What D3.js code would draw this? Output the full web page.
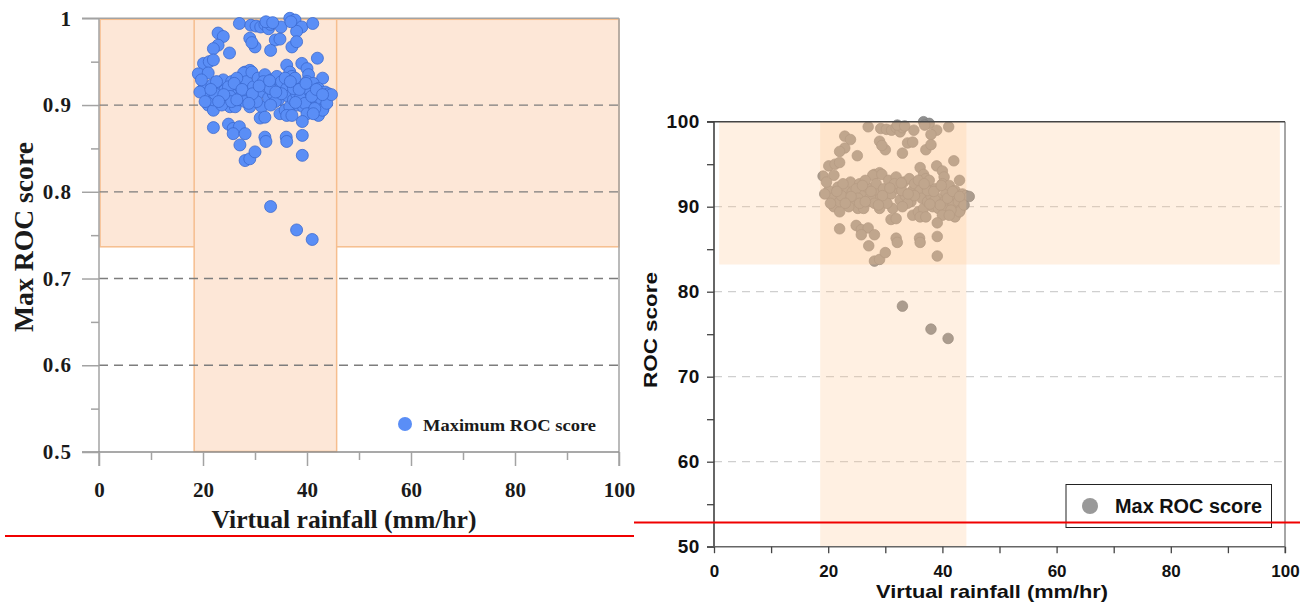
<!DOCTYPE html>
<html>
<head>
<meta charset="utf-8">
<script src="https://cdnjs.cloudflare.com/ajax/libs/d3/7.8.5/d3.min.js"></script>
<style>
  body { margin: 0; background: #fff; }
  svg { display: block; }
  .serif text { font-family: "Liberation Serif", "Times New Roman", serif; font-weight: bold; fill: #1a1a1a; }
  .sans text { font-family: "Liberation Sans", Arial, sans-serif; font-weight: bold; fill: #111; }
</style>
</head>
<body>
<svg width="1315" height="612"></svg>
<script>
// virtual rainfall (mm/hr) and max ROC score
var rainfall = [
  27.0, 29.2, 30.2, 31.1, 31.9, 32.6, 33.0, 35.0, 36.7, 37.7, 39.0, 38.0, 41.1, 32.1, 33.4, 36.9,
  22.9, 23.9, 22.9, 22.0, 25.1, 29.0, 30.0, 33.9, 34.8, 33.0, 37.1, 38.0, 42.0, 29.4,
  20.1, 21.2, 22.0, 19.1, 21.0, 36.1, 39.0, 40.0, 40.3, 43.0, 28.1, 29.0, 36.7, 37.1,
  20.1, 20.7, 21.0, 22.0, 21.7, 22.0, 23.0, 23.3, 23.9, 24.2,
  24.6, 25.2, 25.5, 25.8, 26.2, 26.8, 27.1, 27.8, 28.1, 28.4,
  28.7, 29.0, 29.4, 29.7, 30.0, 30.6, 31.0, 31.3, 31.9, 32.3,
  32.6, 33.2, 33.5, 34.2, 34.5, 34.8, 35.1, 34.8, 35.8, 36.1,
  36.4, 36.7, 37.1, 37.4, 38.0, 38.3, 38.7, 39.2, 39.3, 40.0,
  40.3, 40.6, 40.9, 41.2, 41.5, 41.9, 42.2, 42.5, 42.8, 43.1,
  43.5, 44.1, 42.2, 43.0,
  19.7, 19.4, 20.4, 22.6, 22.3, 23.6, 24.9, 25.2, 26.5, 27.4, 28.1, 25.5,
  30.3, 31.6, 32.9, 33.9, 35.1, 35.8, 37.4, 37.7, 38.7, 39.6, 40.0, 40.9, 41.5, 41.2, 43.8, 44.7,
  26.0, 27.5, 29.5, 30.8, 32.8, 34.0, 24.0, 21.5, 36.8, 38.5, 39.8, 41.8, 43.0, 37.8, 33.0, 28.8, 26.5, 23.0,
  22.0, 24.9, 25.8, 27.0, 25.8, 28.1, 27.1, 31.9, 32.1, 36.0, 36.1, 39.1, 31.0, 31.9, 39.1, 28.1, 29.0, 30.0, 39.1, 36.1, 37.1,
  33.0, 38.0, 41.0
];
var maxRoc = [
  0.994, 0.992, 0.991, 0.990, 0.993, 0.988, 0.993, 0.990, 1.000, 0.998, 0.990, 0.985, 0.994, 0.996, 0.995, 0.996,
  0.983, 0.979, 0.969, 0.965, 0.960, 0.977, 0.967, 0.975, 0.976, 0.963, 0.967, 0.973, 0.954, 0.972,
  0.948, 0.950, 0.952, 0.936, 0.937, 0.946, 0.948, 0.942, 0.935, 0.931, 0.938, 0.940, 0.938, 0.933,
  0.919, 0.910, 0.900, 0.894, 0.923, 0.906, 0.919, 0.910, 0.929, 0.917,
  0.904, 0.898, 0.927, 0.913, 0.898, 0.923, 0.906, 0.937, 0.917, 0.927,
  0.908, 0.898, 0.938, 0.921, 0.910, 0.931, 0.915, 0.898, 0.935, 0.921,
  0.908, 0.929, 0.913, 0.933, 0.906, 0.919, 0.927, 0.890, 0.894, 0.919,
  0.910, 0.898, 0.925, 0.906, 0.913, 0.900, 0.921, 0.910, 0.898, 0.927,
  0.906, 0.917, 0.896, 0.925, 0.910, 0.902, 0.919, 0.892, 0.906, 0.896,
  0.915, 0.913, 0.888, 0.894,
  0.929, 0.915, 0.904, 0.927, 0.913, 0.900, 0.921, 0.910, 0.931, 0.911, 0.904, 0.904,
  0.904, 0.927, 0.919, 0.904, 0.913, 0.931, 0.919, 0.931, 0.908, 0.902, 0.890, 0.910, 0.896, 0.890, 0.902, 0.912,
  0.925, 0.918, 0.913, 0.922, 0.928, 0.915, 0.912, 0.918, 0.927, 0.918, 0.925, 0.918, 0.912, 0.903, 0.900, 0.902, 0.906, 0.904,
  0.874, 0.878, 0.873, 0.875, 0.867, 0.867, 0.854, 0.863, 0.858, 0.863, 0.858, 0.865, 0.885, 0.886, 0.881, 0.836, 0.838, 0.846, 0.842, 0.888, 0.888,
  0.783, 0.756, 0.745
];

var xTicks = [0, 20, 40, 60, 80, 100];
var xMinorTicks = [10, 30, 50, 70, 90];
var leftYTicks = [0.5, 0.6, 0.7, 0.8, 0.9, 1];
var leftYMinor = [0.55, 0.65, 0.75, 0.85, 0.95];
var leftGrid = [0.6, 0.7, 0.8, 0.9];
var rightYTicks = [50, 60, 70, 80, 90, 100];
var rightYMinor = [55, 65, 75, 85, 95];
var rightGrid = [60, 70, 80, 90];
// shaded regions: [x0, x1, y0, y1]
var leftRegions = [[0.2, 100, 0.736, 1], [18.3, 45.7, 0.5, 1]];
var rightRegions = [[0.9, 99.1, 83.2, 100], [18.6, 44.2, 50, 100]];

var points = rainfall.map(function(r, i) { return {x: r, y: maxRoc[i]}; });

var svg = d3.select("svg");

// ---------- left panel ----------
var xL = d3.scaleLinear().domain([0, 100]).range([99, 619]);
var yL = d3.scaleLinear().domain([0.5, 1]).range([452, 18.3]);
var left = svg.append("g").attr("class", "serif");

left.selectAll("rect.region")
    .data(leftRegions)
    .enter().append("rect")
      .attr("x", function(d) { return xL(d[0]); })
      .attr("y", function(d) { return yL(d[3]) + 1; })
      .attr("width", function(d) { return xL(d[1]) - xL(d[0]); })
      .attr("height", function(d) { return yL(d[2]) - yL(d[3]) - 1.5; })
      .attr("fill", "#fde7d7")
      .attr("stroke", "#f6be8e")
      .attr("stroke-width", 1.5);

left.selectAll("line.grid")
    .data(leftGrid)
    .enter().append("line")
      .attr("x1", xL(0)).attr("x2", xL(100))
      .attr("y1", function(d) { return yL(d); })
      .attr("y2", function(d) { return yL(d); })
      .attr("stroke", "#7d7d7d")
      .attr("stroke-width", 1.3)
      .attr("stroke-dasharray", "9,6");

// frame
var grey = "#a3a3a3";
left.append("line").attr("x1", xL(0)).attr("x2", xL(0)).attr("y1", yL(1)).attr("y2", yL(0.5) + 14).attr("stroke", grey).attr("stroke-width", 1.5);
left.append("line").attr("x1", xL(100)).attr("x2", xL(100)).attr("y1", yL(1)).attr("y2", yL(0.5) + 14).attr("stroke", grey).attr("stroke-width", 1.5);
left.append("line").attr("x1", xL(0) - 17).attr("x2", xL(100)).attr("y1", yL(1)).attr("y2", yL(1)).attr("stroke", grey).attr("stroke-width", 1.5);
left.append("line").attr("x1", xL(0) - 17).attr("x2", xL(100)).attr("y1", yL(0.5)).attr("y2", yL(0.5)).attr("stroke", "#8c8c8c").attr("stroke-width", 1.5);

var lyAxis = left.append("g")
    .attr("transform", "translate(" + xL(0) + ",0)")
    .call(d3.axisLeft(yL).tickValues(leftYTicks).tickSize(17).tickPadding(10).tickFormat(d3.format("")));
var lyMinor = left.append("g")
    .attr("transform", "translate(" + xL(0) + ",0)")
    .call(d3.axisLeft(yL).tickValues(leftYMinor).tickSize(8).tickFormat(""));
var lxAxis = left.append("g")
    .attr("transform", "translate(0," + yL(0.5) + ")")
    .call(d3.axisBottom(xL).tickValues(xTicks).tickSize(14).tickPadding(16));
var lxMinor = left.append("g")
    .attr("transform", "translate(0," + yL(0.5) + ")")
    .call(d3.axisBottom(xL).tickValues(xMinorTicks).tickSize(8).tickFormat(""));
[lyAxis, lyMinor, lxAxis, lxMinor].forEach(function(a) {
  a.select(".domain").remove();
  a.selectAll(".tick line").attr("stroke", grey).attr("stroke-width", 1.5);
  a.selectAll(".tick text").attr("font-size", 21).attr("font-family", null);
});
lyAxis.selectAll(".tick text").attr("letter-spacing", 1);

left.selectAll("circle.pt")
    .data(points)
    .enter().append("circle")
      .attr("cx", function(d) { return xL(d.x); })
      .attr("cy", function(d) { return yL(d.y); })
      .attr("r", 6)
      .attr("fill", "#5a8ef6")
      .attr("stroke", "#3b69cf")
      .attr("stroke-width", 0.8);

left.append("text")
    .attr("transform", "translate(33,237) rotate(-90)")
    .attr("text-anchor", "middle")
    .attr("font-size", 27)
    .attr("textLength", 190)
    .attr("lengthAdjust", "spacingAndGlyphs")
    .text("Max ROC score");
left.append("text")
    .attr("x", 344).attr("y", 528)
    .attr("text-anchor", "middle")
    .attr("font-size", 26)
    .attr("textLength", 265)
    .attr("lengthAdjust", "spacingAndGlyphs")
    .text("Virtual rainfall (mm/hr)");

left.append("circle").attr("cx", 405).attr("cy", 424).attr("r", 7).attr("fill", "#5a8ef6");
left.append("text")
    .attr("x", 423).attr("y", 431)
    .attr("font-size", 17)
    .attr("textLength", 173)
    .attr("lengthAdjust", "spacingAndGlyphs")
    .text("Maximum ROC score");

// ---------- right panel ----------
var xR = d3.scaleLinear().domain([0, 100]).range([714, 1285]);
var yR = d3.scaleLinear().domain([50, 100]).range([546.7, 121.7]);
var right = svg.append("g").attr("class", "sans");

right.selectAll("line.grid")
    .data(rightGrid)
    .enter().append("line")
      .attr("x1", xR(0)).attr("x2", xR(100))
      .attr("y1", function(d) { return yR(d); })
      .attr("y2", function(d) { return yR(d); })
      .attr("stroke", "#cfcfcf")
      .attr("stroke-width", 1.2)
      .attr("stroke-dasharray", "8,6");

right.selectAll("circle.pt")
    .data(points)
    .enter().append("circle")
      .attr("cx", function(d) { return xR(d.x); })
      .attr("cy", function(d) { return yR(d.y * 100); })
      .attr("r", 5.3)
      .attr("fill", "#8f8f8f")
      .attr("stroke", "#7b7b7b")
      .attr("stroke-width", 0.7);

right.selectAll("rect.region")
    .data(rightRegions)
    .enter().append("rect")
      .attr("x", function(d) { return xR(d[0]); })
      .attr("y", function(d) { return yR(d[3]); })
      .attr("width", function(d) { return xR(d[1]) - xR(d[0]); })
      .attr("height", function(d) { return yR(d[2]) - yR(d[3]); })
      .attr("fill", "#ffc38b")
      .attr("fill-opacity", 0.25);

right.append("line").attr("x1", xR(0)).attr("x2", xR(0)).attr("y1", yR(100)).attr("y2", yR(50)).attr("stroke", "#333").attr("stroke-width", 1.5);
right.append("line").attr("x1", xR(100)).attr("x2", xR(100)).attr("y1", yR(100)).attr("y2", yR(50) + 6.5).attr("stroke", "#888").attr("stroke-width", 1.5);
right.append("line").attr("x1", xR(0) - 7).attr("x2", xR(100)).attr("y1", yR(100)).attr("y2", yR(100)).attr("stroke", "#444").attr("stroke-width", 1.5);
right.append("line").attr("x1", xR(0) - 7).attr("x2", xR(100)).attr("y1", yR(50)).attr("y2", yR(50)).attr("stroke", "#666").attr("stroke-width", 1.5);

var ryAxis = right.append("g")
    .attr("transform", "translate(" + xR(0) + ",0)")
    .call(d3.axisLeft(yR).tickValues(rightYTicks).tickSize(7).tickPadding(7).tickFormat(d3.format("d")));
var ryMinor = right.append("g")
    .attr("transform", "translate(" + xR(0) + ",0)")
    .call(d3.axisLeft(yR).tickValues(rightYMinor).tickSize(7).tickFormat(""));
var rxAxis = right.append("g")
    .attr("transform", "translate(0," + yR(50) + ")")
    .call(d3.axisBottom(xR).tickValues(xTicks).tickSize(6.5).tickPadding(12).tickFormat(d3.format("d")));
var rxMinor = right.append("g")
    .attr("transform", "translate(0," + yR(50) + ")")
    .call(d3.axisBottom(xR).tickValues(xMinorTicks).tickSize(6.5).tickFormat(""));
[ryAxis, ryMinor, rxAxis, rxMinor].forEach(function(a) {
  a.select(".domain").remove();
  a.selectAll(".tick line").attr("stroke", "#444").attr("stroke-width", 1.3);
  a.selectAll(".tick text").attr("font-family", null);
});
ryAxis.selectAll(".tick text").attr("font-size", 19).attr("letter-spacing", 0.6);
rxAxis.selectAll(".tick text").attr("font-size", 17);

right.append("text")
    .attr("transform", "translate(657,330) rotate(-90)")
    .attr("text-anchor", "middle")
    .attr("font-size", 19)
    .attr("textLength", 116)
    .attr("lengthAdjust", "spacingAndGlyphs")
    .text("ROC score");
right.append("text")
    .attr("x", 992).attr("y", 598)
    .attr("text-anchor", "middle")
    .attr("font-size", 19)
    .attr("textLength", 232)
    .attr("lengthAdjust", "spacingAndGlyphs")
    .text("Virtual rainfall (mm/hr)");

right.append("rect")
    .attr("x", 1066).attr("y", 484.5)
    .attr("width", 205.5).attr("height", 43)
    .attr("fill", "#fff")
    .attr("stroke", "#222")
    .attr("stroke-width", 1);
right.append("circle").attr("cx", 1090).attr("cy", 506).attr("r", 8).attr("fill", "#999");
right.append("text")
    .attr("x", 1115).attr("y", 513)
    .attr("font-size", 19.5)
    .attr("textLength", 147)
    .attr("lengthAdjust", "spacingAndGlyphs")
    .text("Max ROC score");

// red rules across the picture
svg.append("line").attr("x1", 5).attr("x2", 634).attr("y1", 536).attr("y2", 536).attr("stroke", "#f00000").attr("stroke-width", 2);
svg.append("line").attr("x1", 634).attr("x2", 1300).attr("y1", 522.5).attr("y2", 522.5).attr("stroke", "#f00000").attr("stroke-width", 2);
</script>
</body>
</html>
